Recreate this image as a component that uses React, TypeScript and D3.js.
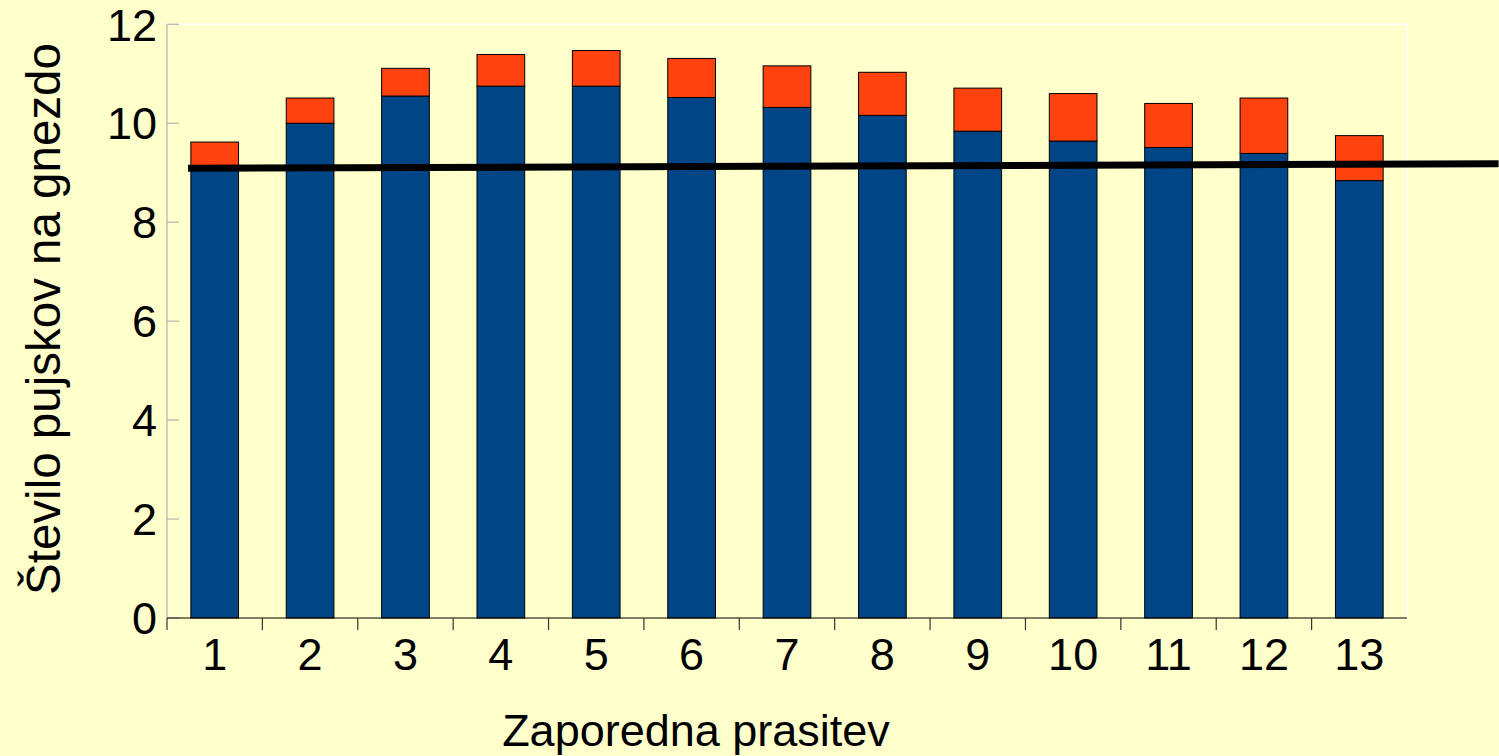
import React from "react";
import * as d3 from "d3";

const categories = ["1", "2", "3", "4", "5", "6", "7", "8", "9", "10", "11", "12", "13"];
const bornAlive = [9.1, 10.0, 10.55, 10.75, 10.75, 10.52, 10.32, 10.16, 9.84, 9.64, 9.51, 9.39, 8.84];
const totalBorn = [9.62, 10.51, 11.11, 11.39, 11.47, 11.31, 11.16, 11.03, 10.71, 10.6, 10.4, 10.51, 9.75];
const yTicks = [0, 2, 4, 6, 8, 10, 12];
const trendX = [0.72, 14.46];
const trendY = [9.09, 9.18];
const xTitle = "Zaporedna prasitev";
const yTitle = "Število pujskov na gnezdo";

const W = 1499;
const H = 756;
const left = 167;
const right = 1407;
const top = 24.3;
const bottom = 618;

export default function App() {
  const x = d3.scaleBand<string>().domain(categories).range([left, right]).paddingInner(0.5).paddingOuter(0.25);
  const y = d3.scaleLinear().domain([0, 12]).range([bottom, top]);
  const bw = x.bandwidth();
  const step = x.step();
  const xi = d3
    .scaleLinear()
    .domain([1, 13])
    .range([(x("1") as number) + bw / 2, (x("13") as number) + bw / 2]);
  const trendLine = d3
    .line<number>()
    .x((d) => xi(d))
    .y((_, i) => y(trendY[i]));
  const font = "'Liberation Sans', Arial, sans-serif";
  const boundaries = d3.range(0, 13).map((k) => left + k * step);

  return (
    <svg
      width={W}
      height={H}
      style={{ position: "absolute", left: 0, top: 0, display: "block" }}
      fontFamily={font}
    >
      <rect x={0} y={0} width={W} height={H} fill="#FFFFCC" />
      {/* plot border top/right */}
      <path d={`M${left},${top}H${right}V${bottom}`} fill="none" stroke="#ffffff" strokeWidth={1.5} />
      {/* y axis */}
      <line x1={left} x2={left} y1={top} y2={bottom} stroke="#b3b3b3" strokeWidth={1.2} />
      {yTicks.map((t) => (
        <g key={t}>
          <line x1={left} x2={left + 12} y1={y(t)} y2={y(t)} stroke="#b3b3b3" strokeWidth={1.2} />
          <text x={157} y={y(t)} dy="0.36em" textAnchor="end" fontSize={45} fill="#000">
            {t}
          </text>
        </g>
      ))}
      {/* bars */}
      {categories.map((c, i) => (
        <g key={c}>
          <rect
            x={x(c)}
            y={y(bornAlive[i])}
            width={bw}
            height={y(0) - y(bornAlive[i])}
            fill="#004586"
            stroke="#000"
            strokeWidth={1}
          />
          <rect
            x={x(c)}
            y={y(totalBorn[i])}
            width={bw}
            height={y(bornAlive[i]) - y(totalBorn[i])}
            fill="#FF420E"
            stroke="#000"
            strokeWidth={1}
          />
        </g>
      ))}
      {/* x axis */}
      <line x1={left} x2={right} y1={bottom} y2={bottom} stroke="#000" strokeWidth={1.2} />
      {boundaries.map((b, k) => (
        <line key={k} x1={b} x2={b} y1={bottom} y2={bottom + 12} stroke="#333" strokeWidth={1.2} />
      ))}
      {categories.map((c) => (
        <text key={c} x={(x(c) as number) + bw / 2} y={670} textAnchor="middle" fontSize={45} fill="#000">
          {c}
        </text>
      ))}
      {/* trend line */}
      <path d={trendLine(trendX) || ""} fill="none" stroke="#000" strokeWidth={7} />
      {/* titles */}
      <text x={696} y={746} textAnchor="middle" fontSize={45} fill="#000">
        {xTitle}
      </text>
      <text
        transform={`translate(60,319) rotate(-90)`}
        textAnchor="middle"
        fontSize={47.5}
        fill="#000"
      >
        {yTitle}
      </text>
    </svg>
  );
}
